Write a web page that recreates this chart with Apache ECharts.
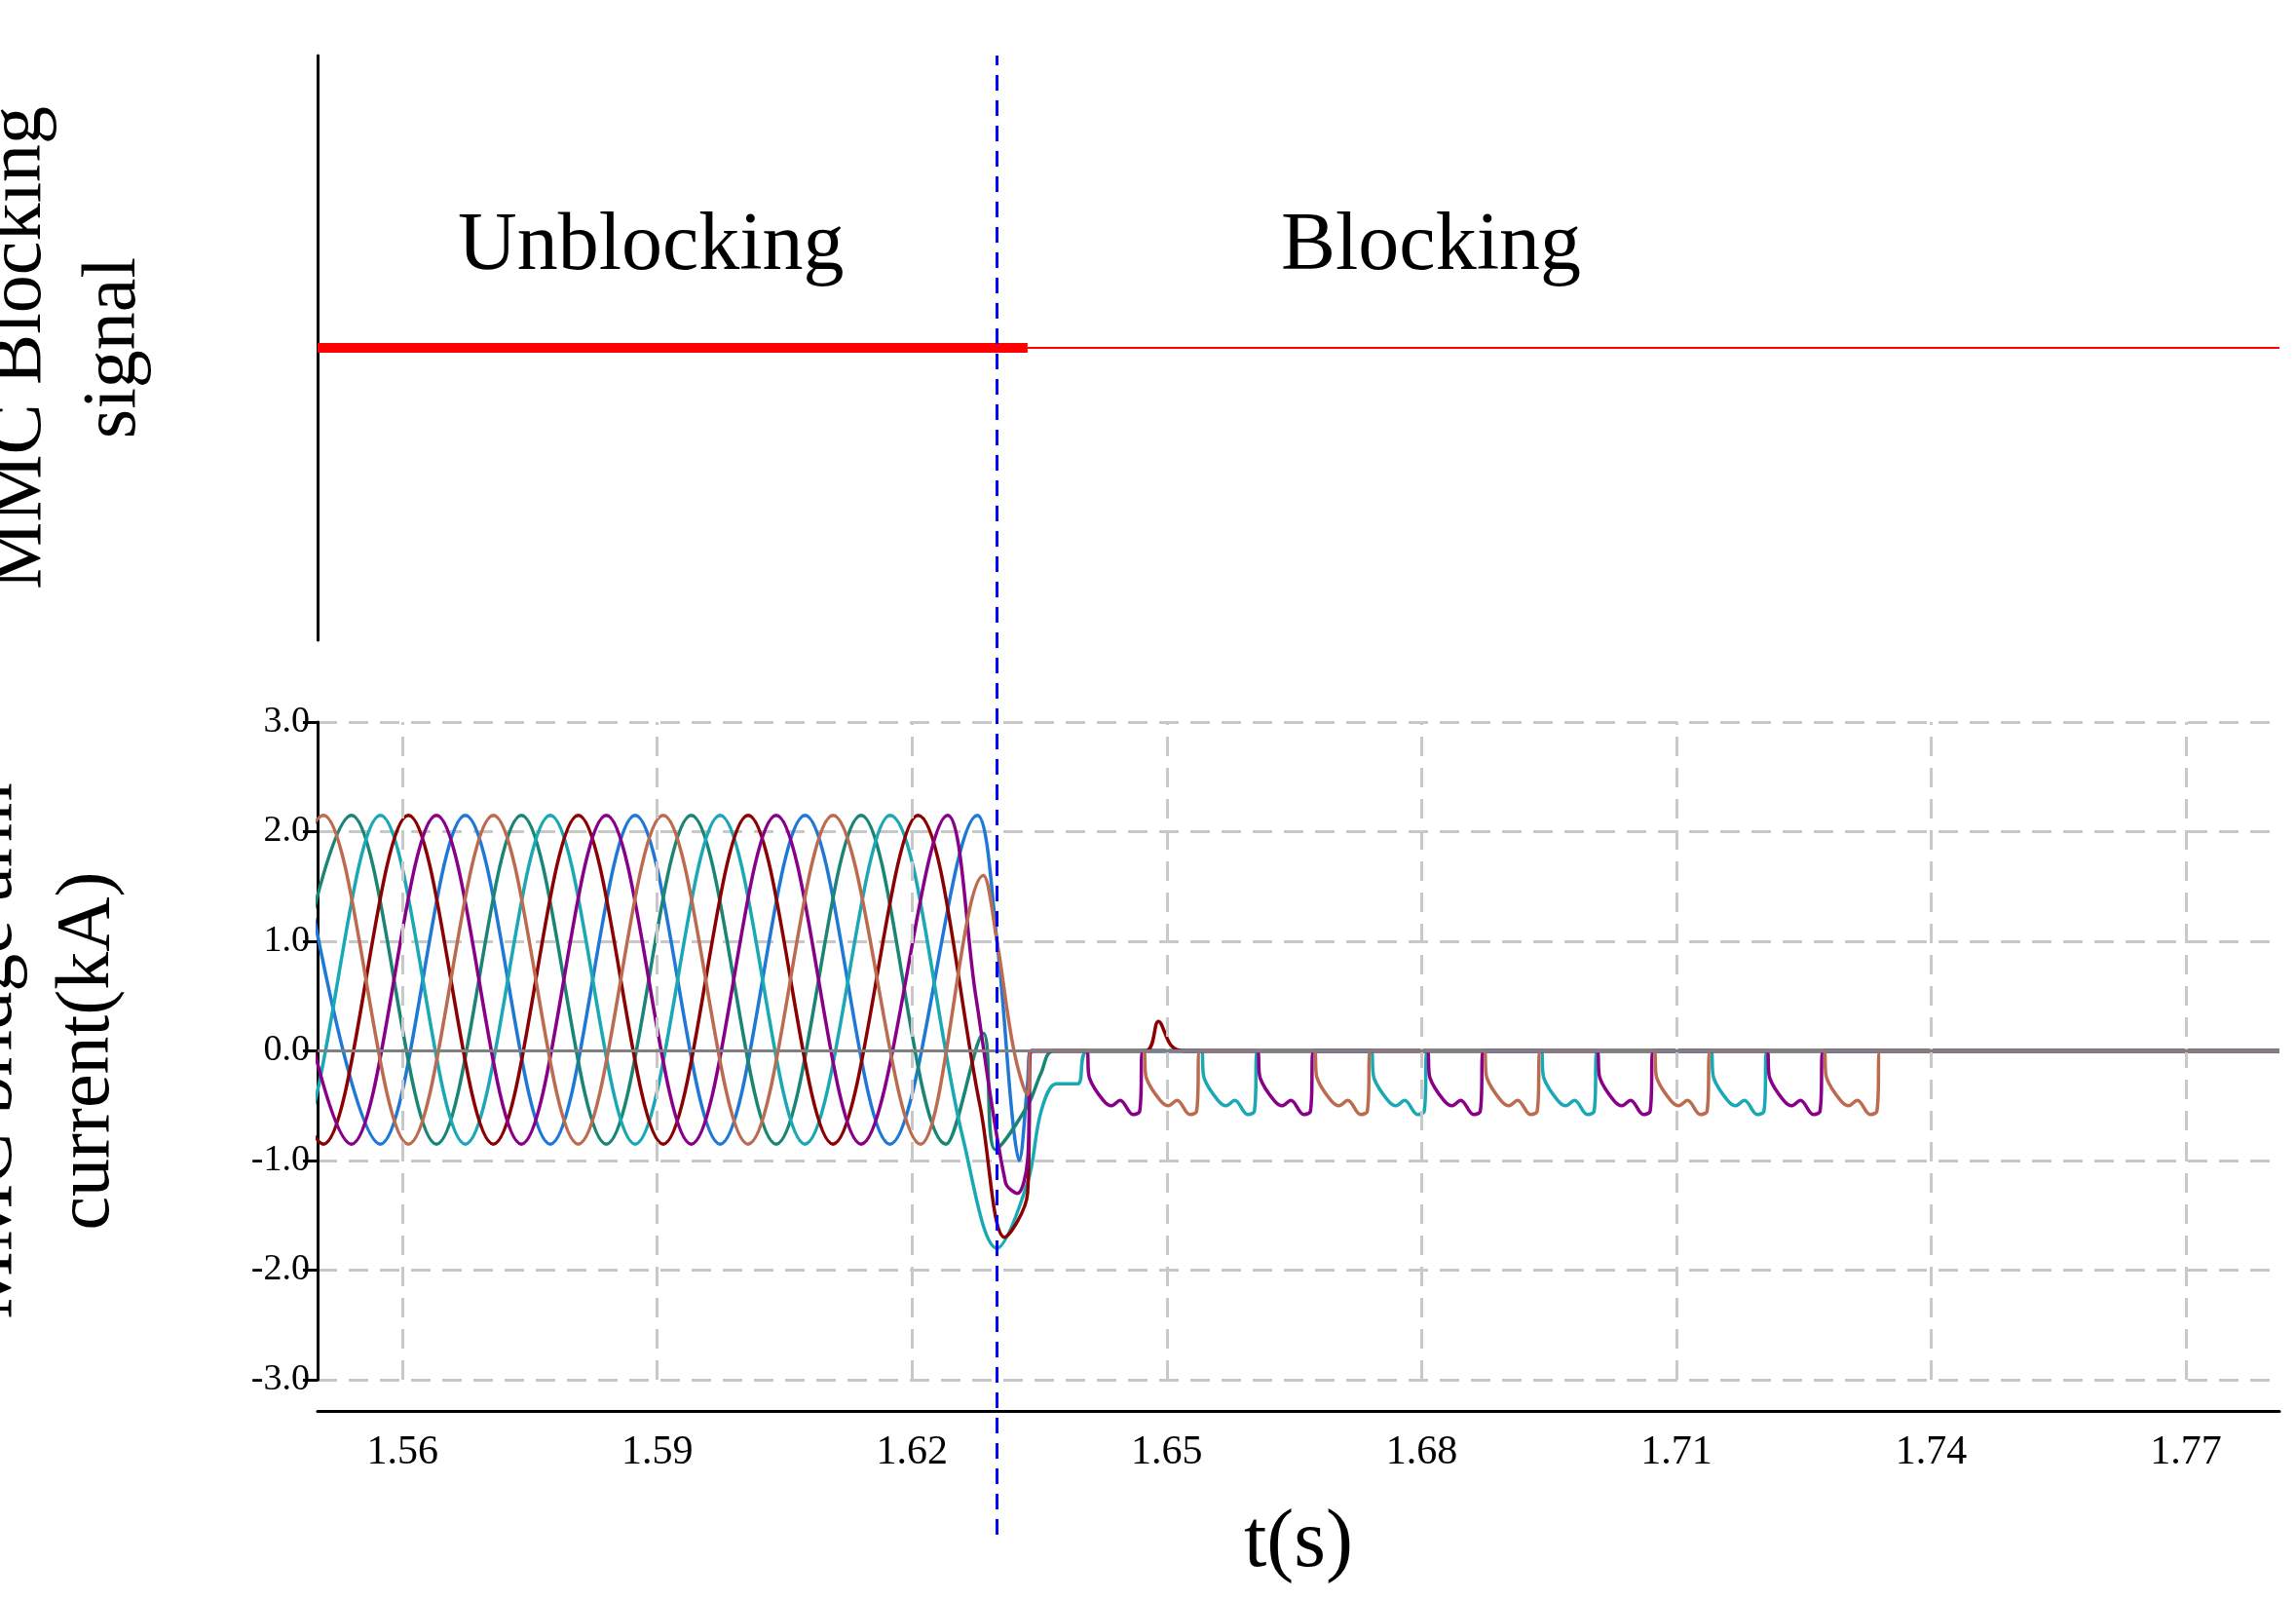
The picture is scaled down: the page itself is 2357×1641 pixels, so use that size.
<!DOCTYPE html>
<html>
<head>
<meta charset="utf-8">
<script src="https://cdn.jsdelivr.net/npm/echarts@6/dist/echarts.min.js"></script>
<style>html,body{margin:0;padding:0;background:#fff}#main{width:2357px;height:1641px}</style>
</head>
<body>
<div id="main"></div>
<script>
// time axis
var tMin = 1.55, tMax = 1.781, tBlock = 1.6336;
var xTicks = [1.56, 1.59, 1.62, 1.65, 1.68, 1.71, 1.74, 1.77];
var yTicks = [-3, -2, -1, 0, 1, 2, 3];

// arm currents before blocking: peak (~2.15 kA) and trough (~-0.85 kA) times
var peakVal = 2.15, troughVal = -0.85;
var orangePeaks = [1.5507, 1.5707, 1.5907, 1.6107];
var orangeTroughs = [1.5407, 1.5607, 1.5807, 1.6007, 1.6210];
var greenPeaks = [1.5540, 1.5740, 1.5940, 1.6140];
var greenTroughs = [1.5440, 1.5640, 1.5840, 1.6040, 1.6240];
var cyanPeaks = [1.5374, 1.5574, 1.5774, 1.5974, 1.6174];
var cyanTroughs = [1.5474, 1.5674, 1.5874, 1.6074];
var redPeaks = [1.5407, 1.5607, 1.5807, 1.6007, 1.6207];
var redTroughs = [1.5507, 1.5707, 1.5907, 1.6107];
var purplePeaks = [1.5440, 1.5640, 1.5840, 1.6040, 1.6242];
var purpleTroughs = [1.5540, 1.5740, 1.5940, 1.6140];
var bluePeaks = [1.5474, 1.5674, 1.5874, 1.6074, 1.6277];
var blueTroughs = [1.5574, 1.5774, 1.5974, 1.6174];

// collapse around the blocking instant
var orangeTail = [[1.6284, 1.6], [1.6300, 1.0], [1.6320, 0.0], [1.6336, -0.4], [1.6340, 0]];
var greenTail = [[1.6284, 0.16], [1.6298, -0.9], [1.6336, -0.5], [1.6352, -0.2], [1.6367, 0]];
var cyanTail = [[1.6260, -0.8], [1.6300, -1.8], [1.6336, -1.2], [1.6352, -0.55], [1.6370, -0.3], [1.6395, -0.3], [1.6407, 0]];
var redTail = [[1.6280, -0.5], [1.6309, -1.7], [1.6336, -1.3], [1.6340, 0], [1.6475, 0], [1.6490, 0.27], [1.6505, 0.05], [1.6520, 0]];
var purpleTail = [[1.6275, 0.5], [1.6310, -1.2], [1.6324, -1.3], [1.6336, -1.0], [1.6340, 0]];
var blueTail = [[1.6300, 1.0], [1.6318, -0.6], [1.6326, -1.0], [1.6336, -0.3], [1.6340, 0]];

// after blocking: recurring negative dips (start times) and the dip outline
var purpleDips = [1.6405, 1.6606, 1.6806, 1.7006, 1.7206];
var orangeDips = [1.6472, 1.6673, 1.6873, 1.7073, 1.7273];
var cyanDips = [1.6540, 1.6740, 1.6940, 1.7140];
var dipShape = [[0, 0], [0.0004, -0.25], [0.0020, -0.45], [0.0030, -0.5], [0.0040, -0.45], [0.0055, -0.58], [0.0063, -0.55], [0.0067, 0]];

function build(peaks, troughs, tail, dips) {
  var pts = [];
  peaks.forEach(function (t) { pts.push([t, peakVal]); });
  troughs.forEach(function (t) { pts.push([t, troughVal]); });
  pts.sort(function (a, b) { return a[0] - b[0]; });
  pts = pts.concat(tail);
  (dips || []).forEach(function (d) {
    dipShape.forEach(function (s) { pts.push([+(d + s[0]).toFixed(5), s[1]]); });
  });
  pts.push([tMax, 0]);
  return pts;
}

function curve(name, color, data) {
  return {
    name: name, type: 'line', xAxisIndex: 1, yAxisIndex: 1,
    data: data, showSymbol: false, smooth: 0.35,
    lineStyle: { color: color, width: 3.5 }, z: 3
  };
}

var font = 'Liberation Serif';
var chart = echarts.init(document.getElementById('main'));
chart.setOption({
  animation: false,
  backgroundColor: '#fff',
  grid: [
    { left: 326, right: 17, top: 57, height: 600, outerBoundsMode: 'none', containLabel: false },
    { left: 326, right: 17, top: 741, height: 675, outerBoundsMode: 'none', containLabel: false },
    { left: 326, right: 17, top: 57, height: 1518, outerBoundsMode: 'none', containLabel: false }
  ],
  xAxis: [
    { gridIndex: 0, type: 'value', min: tMin, max: tMax, show: false },
    {
      gridIndex: 1, type: 'value', min: tMin, max: tMax, interval: 0.01, offset: 32,
      axisLine: { show: true, onZero: false, lineStyle: { color: '#000', width: 3 } },
      axisTick: { show: false }, splitLine: { show: false },
      axisLabel: { customValues: xTicks, fontFamily: font, fontSize: 42, color: '#000', margin: 22,
        formatter: function (v) { return v.toFixed(2); } },
      name: 't(s)', nameLocation: 'middle', nameGap: 95,
      nameTextStyle: { fontFamily: font, fontSize: 84, color: '#000' }
    },
    { gridIndex: 2, type: 'value', min: tMin, max: tMax, show: false }
  ],
  yAxis: [
    {
      gridIndex: 0, type: 'value', min: 0, max: 1,
      axisLine: { show: true, lineStyle: { color: '#000', width: 3 } },
      axisTick: { show: false }, axisLabel: { show: false }, splitLine: { show: false },
      name: 'MMC Blocking\nsignal', nameLocation: 'middle', nameRotate: 90, nameGap: 160,
      nameTextStyle: { fontFamily: font, fontSize: 78, color: '#000', lineHeight: 97 }
    },
    {
      gridIndex: 1, type: 'value', min: -3, max: 3, interval: 1,
      axisLine: { show: true, lineStyle: { color: '#000', width: 3 } },
      axisTick: { show: true, length: 15, lineStyle: { color: '#000', width: 3 } },
      axisLabel: { fontFamily: font, fontSize: 38, color: '#000', margin: 8,
        formatter: function (v) { return v.toFixed(1); } },
      splitLine: { show: true, lineStyle: { color: '#c8c8c8', width: 3, type: [20, 12] } },
      name: 'MMC bridge arm\ncurrent(kA)', nameLocation: 'middle', nameRotate: 90, nameGap: 185,
      nameTextStyle: { fontFamily: font, fontSize: 78, color: '#000', lineHeight: 100 }
    },
    { gridIndex: 2, type: 'value', min: 0, max: 1, show: false }
  ],
  graphic: [
    { type: 'text', left: 470, top: 212, style: { text: 'Unblocking', font: '84px "Liberation Serif"', fill: '#000' } },
    { type: 'text', left: 1315, top: 212, style: { text: 'Blocking', font: '84px "Liberation Serif"', fill: '#000' } }
  ],
  series: [
    { type: 'line', xAxisIndex: 0, yAxisIndex: 0, data: [[tMin, 0.5], [tBlock, 0.5]], showSymbol: false,
      lineStyle: { color: '#ff0000', width: 10 } },
    { type: 'line', xAxisIndex: 0, yAxisIndex: 0, data: [[tBlock, 0.5], [tMax, 0.5]], showSymbol: false,
      lineStyle: { color: '#ff0000', width: 2 } },
    { type: 'line', xAxisIndex: 1, yAxisIndex: 1, data: [], silent: true,
      markLine: { symbol: 'none', silent: true, label: { show: false },
        lineStyle: { color: '#c8c8c8', width: 3, type: [20, 12] },
        data: xTicks.map(function (t) { return { xAxis: t }; }).concat([
          { yAxis: 0, lineStyle: { color: '#808080', width: 3, type: 'solid' } }]) } },
    curve('blue', '#1f78d6', build(bluePeaks, blueTroughs, blueTail)),
    curve('green', '#1a8575', build(greenPeaks, greenTroughs, greenTail)),
    curve('cyan', '#1aa8b4', build(cyanPeaks, cyanTroughs, cyanTail, cyanDips)),
    curve('darkred', '#8b0000', build(redPeaks, redTroughs, redTail)),
    curve('purple', '#880088', build(purplePeaks, purpleTroughs, purpleTail, purpleDips)),
    curve('orange', '#bb6c50', build(orangePeaks, orangeTroughs, orangeTail, orangeDips)),
    { type: 'line', xAxisIndex: 2, yAxisIndex: 2, data: [], silent: true, z: 5,
      markLine: { symbol: 'none', silent: true, label: { show: false },
        lineStyle: { color: '#0000ff', width: 3, type: [16, 10] },
        data: [{ xAxis: tBlock }] } }
  ]
});
</script>
</body>
</html>
